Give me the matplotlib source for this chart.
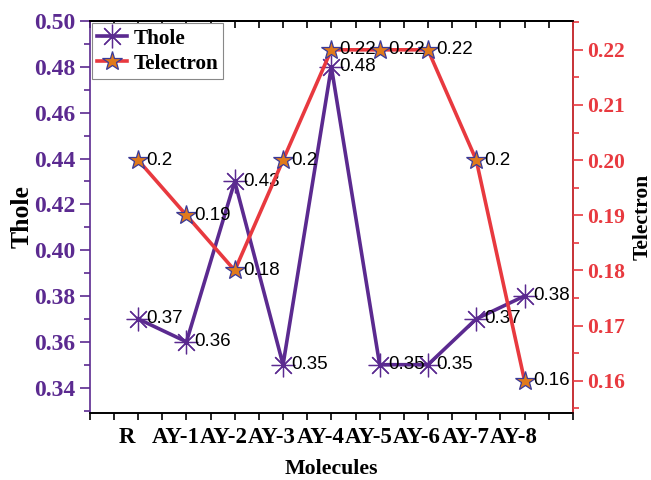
import matplotlib
matplotlib.use("Agg")
import matplotlib.pyplot as plt
from matplotlib.ticker import MultipleLocator
from matplotlib.transforms import ScaledTranslation

# data
molecules = ["R", "AY-1", "AY-2", "AY-3", "AY-4", "AY-5", "AY-6", "AY-7", "AY-8"]
thole = [0.37, 0.36, 0.43, 0.35, 0.48, 0.35, 0.35, 0.37, 0.38]
telectron = [0.20, 0.19, 0.18, 0.20, 0.22, 0.22, 0.22, 0.20, 0.16]

purple = "#5b2a90"
red = "#e8393f"
serif = "Liberation Serif"
sans = "Liberation Sans"

fig, ax = plt.subplots(figsize=(6.51, 4.8), dpi=100)
fig.subplots_adjust(left=0.138, right=0.88, top=0.956, bottom=0.14)
ax2 = ax.twinx()

x = list(range(len(molecules)))
l1, = ax.plot(x, thole, color=purple, lw=2.6, marker=(8, 2, 0), ms=17,
              mec=purple, mew=0.9, label="Thole", zorder=3)
l2, = ax2.plot(x, telectron, color=red, lw=2.6, marker="*", ms=15,
               mfc="#e07a1c", mec="#3b3a98", mew=0.9, label="Telectron", zorder=3)

for xi, v in zip(x, thole):
    ax.text(xi + 0.17, v, f"{v:g}", fontsize=13.5, family=sans, va="center", ha="left", zorder=4)
for xi, v in zip(x, telectron):
    ax2.text(xi + 0.17, v, f"{v:g}", fontsize=13.5, family=sans, va="center", ha="left", zorder=4)

ax.set_xlim(-1, 9)
ax.set_ylim(0.329, 0.50)
ax2.set_ylim(0.1542, 0.2252)

ax.set_xticks(x)
ax.set_xticklabels(molecules, fontsize=16.5, fontweight="bold", family=serif)
ax.xaxis.set_minor_locator(MultipleLocator(0.5))
ax.yaxis.set_major_locator(MultipleLocator(0.02))
ax.yaxis.set_minor_locator(MultipleLocator(0.01))
ax2.yaxis.set_major_locator(MultipleLocator(0.01))
ax2.yaxis.set_minor_locator(MultipleLocator(0.005))
ax.yaxis.set_major_formatter(plt.FormatStrFormatter("%.2f"))
ax2.yaxis.set_major_formatter(plt.FormatStrFormatter("%.2f"))

for lab in ax.get_yticklabels():
    lab.set_fontsize(17); lab.set_fontweight("bold"); lab.set_family(serif); lab.set_color(purple)
for lab in ax2.get_yticklabels():
    lab.set_fontsize(15.5); lab.set_fontweight("bold"); lab.set_family(serif); lab.set_color(red)

ax.tick_params(axis="x", which="major", direction="out", length=5, width=1.2, pad=5)
ax.tick_params(axis="x", which="minor", direction="out", length=5, width=1.2)
ax.tick_params(axis="y", which="major", colors=purple, length=7, width=1.2, labelcolor=purple)
ax.tick_params(axis="y", which="minor", colors=purple, length=4, width=1.2)
ax2.tick_params(axis="y", which="major", colors=red, length=7, width=1.2, labelcolor=red)
ax2.tick_params(axis="y", which="minor", colors=red, length=4, width=1.2)

# category labels sit a little to the left of their ticks in the reference
shift = ScaledTranslation(-11 / 100, 0, fig.dpi_scale_trans)
for t in ax.xaxis.get_major_ticks():
    t.label1.set_transform(t.label1.get_transform() + shift)

# top axis: inward ticks, no labels
top = ax.secondary_xaxis("top")
top.set_xticks(x)
top.set_xticklabels([])
top.xaxis.set_minor_locator(MultipleLocator(0.5))
top.tick_params(axis="x", which="major", direction="in", length=5, width=1.2)
top.tick_params(axis="x", which="minor", direction="in", length=5, width=1.2)
top.spines["top"].set_linewidth(1.2)

ax.spines["left"].set_color(purple)
ax2.spines["left"].set_visible(False)
ax2.spines["right"].set_color(red)
for s in ["left", "right", "top", "bottom"]:
    ax.spines[s].set_linewidth(1.2)
    ax2.spines[s].set_linewidth(1.2)

ax.set_xlabel("Molecules", fontsize=15.7, fontweight="bold", family=serif, labelpad=8)
ax.set_ylabel("Thole", fontsize=18.5, fontweight="bold", family=serif, labelpad=0)
ax2.set_ylabel("Telectron", fontsize=15.5, fontweight="bold", family=serif, labelpad=5)

leg = ax2.legend(handles=[l1, l2], loc="upper left", bbox_to_anchor=(0.0, 1.0),
                 prop={"family": serif, "weight": "bold", "size": 15.3},
                 fancybox=False, edgecolor="#888888", framealpha=1, borderpad=0.25,
                 handlelength=1.4, handletextpad=0.3, labelspacing=0.25, borderaxespad=0.1)
leg.get_frame().set_linewidth(0.8)

fig.savefig("out.png", dpi=100)
